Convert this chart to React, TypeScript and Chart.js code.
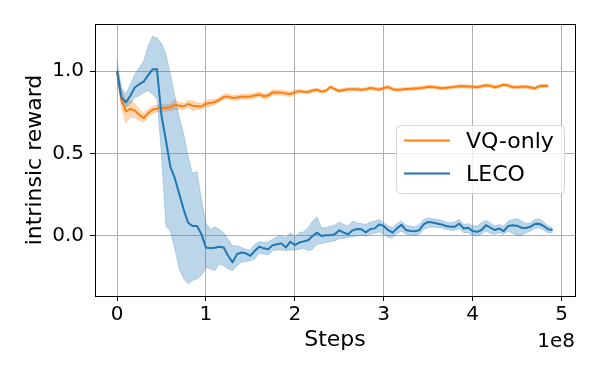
import React, { useEffect, useRef } from "react";
import { Chart, registerables } from "chart.js";

Chart.register(...registerables);

const FONT = "DejaVu Sans";

// Training steps (millions)
const stepsM = [
  0, 5, 10, 15, 20, 25, 30, 35, 40, 45,
  50, 55, 60, 65, 70, 75, 80, 85, 90, 95,
  100, 105, 110, 115, 120, 125, 130, 135, 140, 145,
  150, 155, 160, 165, 170, 175, 180, 185, 190, 195,
  200, 205, 210, 215, 220, 225, 230, 235, 240, 245,
  250, 255, 260, 265, 270, 275, 280, 285, 290, 295,
  300, 305, 310, 315, 320, 325, 330, 335, 340, 345,
  350, 355, 360, 365, 370, 375, 380, 385, 390, 395,
  400, 405, 410, 415, 420, 425, 430, 435, 440, 445,
  450, 455, 460, 465, 470, 475, 480, 485, 490,
];

const vqMean = [
  1.0, 0.83, 0.755, 0.77, 0.76, 0.735, 0.715, 0.745, 0.765, 0.772,
  0.775, 0.776, 0.78, 0.795, 0.79, 0.785, 0.8, 0.79, 0.788, 0.785,
  0.802, 0.806, 0.812, 0.825, 0.842, 0.845, 0.836, 0.84, 0.844, 0.844,
  0.845, 0.852, 0.858, 0.847, 0.852, 0.87, 0.87, 0.869, 0.864, 0.86,
  0.872, 0.878, 0.874, 0.873, 0.882, 0.887, 0.875, 0.88, 0.903, 0.89,
  0.879, 0.885, 0.889, 0.89, 0.89, 0.886, 0.89, 0.897, 0.893, 0.887,
  0.897, 0.903, 0.89, 0.886, 0.888, 0.891, 0.892, 0.894, 0.896, 0.899,
  0.904, 0.903, 0.9, 0.895, 0.898, 0.901, 0.904, 0.908, 0.908, 0.906,
  0.904, 0.902, 0.908, 0.913, 0.91, 0.902, 0.908, 0.917, 0.912, 0.902,
  0.902, 0.905, 0.905, 0.9, 0.895, 0.908, 0.911, 0.909,
];

const vqSpread = [
  0.02, 0.05, 0.07, 0.05, 0.04, 0.035, 0.025, 0.025, 0.02, 0.02,
  0.02, 0.02, 0.02, 0.03, 0.02, 0.02, 0.02, 0.03, 0.02, 0.02,
  0.02, 0.02, 0.015, 0.015, 0.015, 0.015, 0.015, 0.015, 0.015, 0.015,
  0.015, 0.015, 0.015, 0.015, 0.015, 0.015, 0.015, 0.015, 0.015, 0.015,
  0.015, 0.01, 0.01, 0.01, 0.01, 0.01, 0.01, 0.01, 0.01, 0.01,
  0.01, 0.01, 0.01, 0.01, 0.01, 0.01, 0.01, 0.01, 0.01, 0.01,
  0.01, 0.01, 0.01, 0.01, 0.01, 0.01, 0.01, 0.01, 0.01, 0.01,
  0.01, 0.01, 0.01, 0.01, 0.01, 0.01, 0.01, 0.01, 0.01, 0.01,
  0.01, 0.01, 0.01, 0.01, 0.01, 0.01, 0.01, 0.01, 0.01, 0.01,
  0.01, 0.01, 0.01, 0.01, 0.01, 0.01, 0.01, 0.01,
];

const lecoMean = [
  1.0, 0.84, 0.81, 0.85, 0.9, 0.92, 0.935, 0.975, 1.01, 1.01,
  0.73, 0.58, 0.42, 0.35, 0.255, 0.16, 0.08, 0.06, 0.06, 0.01,
  -0.07, -0.075, -0.072, -0.065, -0.07, -0.12, -0.16, -0.11, -0.1, -0.105,
  -0.12, -0.09, -0.065, -0.075, -0.08, -0.057, -0.05, -0.045, -0.07, -0.035,
  -0.055, -0.04, -0.033, -0.026, 0.0, 0.02, 0.0, 0.004, 0.005, 0.01,
  0.034, 0.02, 0.01, 0.034, 0.042, 0.04, 0.022, 0.042, 0.046, 0.07,
  0.06, 0.035, 0.02, 0.046, 0.068, 0.036, 0.03, 0.028, 0.035, 0.07,
  0.085, 0.082, 0.075, 0.07, 0.06, 0.056, 0.056, 0.075, 0.045, 0.05,
  0.03, 0.025, 0.036, 0.065, 0.05, 0.036, 0.045, 0.03, 0.06, 0.065,
  0.062, 0.05, 0.048, 0.056, 0.072, 0.074, 0.06, 0.04, 0.036,
];

const lecoUpper = [
  1.06, 0.9, 0.86, 0.92, 0.98, 1.02, 1.06, 1.15, 1.21, 1.2,
  1.17, 1.1, 0.98, 0.85, 0.72, 0.62, 0.48, 0.38, 0.39, 0.22,
  0.08, 0.04, 0.055, 0.04, 0.02, -0.02, -0.06, -0.06, -0.07, -0.08,
  -0.085, -0.05, -0.035, -0.04, -0.035, -0.02, -0.005, 0.0, -0.01, 0.02,
  -0.005, 0.02, 0.025, 0.05, 0.09, 0.115, 0.05, 0.05, 0.06, 0.065,
  0.085, 0.07, 0.06, 0.09, 0.08, 0.075, 0.07, 0.085, 0.09, 0.1,
  0.08, 0.06, 0.05, 0.075, 0.09, 0.065, 0.06, 0.055, 0.07, 0.1,
  0.11, 0.105, 0.1, 0.095, 0.085, 0.08, 0.085, 0.1, 0.07, 0.075,
  0.06, 0.06, 0.08, 0.095, 0.08, 0.06, 0.07, 0.06, 0.09, 0.1,
  0.105, 0.09, 0.075, 0.08, 0.1, 0.105, 0.085, 0.06, 0.05,
];

const lecoLower = [
  0.95, 0.8, 0.78, 0.8, 0.84, 0.85, 0.87, 0.88, 0.86, 0.83,
  0.5, 0.06, 0.03, -0.08, -0.2, -0.26, -0.29, -0.27, -0.26, -0.24,
  -0.19, -0.2, -0.21, -0.17, -0.18, -0.2, -0.21, -0.18, -0.16, -0.155,
  -0.15, -0.14, -0.105, -0.11, -0.115, -0.09, -0.085, -0.085, -0.09, -0.085,
  -0.085, -0.08, -0.075, -0.09, -0.08, -0.05, -0.045, -0.04, -0.035, -0.03,
  -0.015, -0.015, -0.01, -0.005, 0.0, 0.005, 0.0, 0.01, 0.015, 0.025,
  0.01, -0.01, -0.01, 0.015, 0.03, 0.01, 0.005, 0.005, 0.01, 0.04,
  0.05, 0.055, 0.05, 0.05, 0.04, 0.035, 0.035, 0.045, 0.02, 0.02,
  0.005, 0.0, 0.01, 0.03, 0.015, 0.01, 0.02, 0.01, 0.03, 0.015,
  0.005, 0.005, 0.02, 0.03, 0.045, 0.05, 0.035, 0.02, 0.02,
];

const seriesLabels = ["VQ-only", "LECO"];
const seriesColors = ["#ff7f0e", "#1f77b4"];
const bandColors = ["rgba(255,127,14,0.3)", "rgba(31,119,180,0.3)"];

const xTickValues = [0, 1, 2, 3, 4, 5]; // units of 1e8
const yTickValues = [0.0, 0.5, 1.0];
const xOffsetLabel = "1e8";
const xTitle = "Steps";
const yTitle = "intrinsic reward";

const pts = (vals: number[]) =>
  vals.map((v, i) => ({ x: stepsM[i] * 1e6, y: v }));

const framePlugin = {
  id: "frame",
  afterDatasetsDraw(chart: any) {
    const { ctx, chartArea } = chart;
    ctx.save();
    ctx.strokeStyle = "#000";
    ctx.lineWidth = 1;
    ctx.strokeRect(
      chartArea.left + 0.5,
      chartArea.top + 0.5,
      chartArea.right - chartArea.left,
      chartArea.bottom - chartArea.top
    );
    ctx.restore();
  },
};

const extrasPlugin = {
  id: "extras",
  afterDraw(chart: any) {
    const { ctx, chartArea } = chart;
    ctx.save();
    // offset text
    ctx.fillStyle = "#000";
    ctx.font = `20px "${FONT}"`;
    ctx.textAlign = "right";
    ctx.textBaseline = "alphabetic";
    ctx.fillText(xOffsetLabel, chartArea.right, 346.5);

    // legend box
    const bx = 396.5, by = 125.5, bw = 168, bh = 68;
    ctx.beginPath();
    (ctx as any).roundRect(bx, by, bw, bh, 4);
    ctx.fillStyle = "rgba(255,255,255,0.8)";
    ctx.fill();
    ctx.strokeStyle = "rgba(204,204,204,0.8)";
    ctx.lineWidth = 1;
    ctx.stroke();

    const rowY = [140.5, 173.5];
    seriesLabels.forEach((lab, i) => {
      ctx.beginPath();
      ctx.moveTo(404, rowY[i]);
      ctx.lineTo(450, rowY[i]);
      ctx.strokeStyle = seriesColors[i];
      ctx.lineWidth = 2;
      ctx.stroke();
      ctx.fillStyle = "#000";
      ctx.font = `22px "${FONT}"`;
      ctx.textAlign = "left";
      ctx.textBaseline = "alphabetic";
      ctx.fillText(lab, 466, rowY[i] + 7.3);
    });
    ctx.restore();
  },
};

export default function App() {
  const ref = useRef<HTMLCanvasElement | null>(null);

  useEffect(() => {
    if (!ref.current) return;
    Chart.defaults.font.family = FONT;
    const vqUpper = vqMean.map((v, i) => v + vqSpread[i]);
    const vqLower = vqMean.map((v, i) => v - vqSpread[i]);

    const common = { pointRadius: 0, tension: 0, borderJoinStyle: "round" as const };

    const chart = new Chart(ref.current, {
      type: "line",
      data: {
        datasets: [
          { label: "vq-up", data: pts(vqUpper), fill: "+1", backgroundColor: bandColors[0], borderColor: bandColors[0], borderWidth: 0.8, order: 5, ...common },
          { label: "vq-lo", data: pts(vqLower), fill: false, borderColor: bandColors[0], borderWidth: 0.8, order: 4, ...common },
          { label: "leco-up", data: pts(lecoUpper), fill: "+1", backgroundColor: bandColors[1], borderColor: bandColors[1], borderWidth: 0.8, order: 3, ...common },
          { label: "leco-lo", data: pts(lecoLower), fill: false, borderColor: bandColors[1], borderWidth: 0.8, order: 2, ...common },
          { label: seriesLabels[0], data: pts(vqMean), fill: false, borderColor: seriesColors[0], borderWidth: 2, order: 1, ...common },
          { label: seriesLabels[1], data: pts(lecoMean), fill: false, borderColor: seriesColors[1], borderWidth: 2, order: 0, ...common },
        ],
      },
      options: {
        animation: false,
        responsive: false,
        maintainAspectRatio: false,
        devicePixelRatio: 1,
        events: [],
        layout: { padding: { left: 0, top: 24, right: 25, bottom: 0 } },
        plugins: { legend: { display: false }, tooltip: { enabled: false } },
        scales: {
          x: {
            type: "linear",
            min: -0.2475e8,
            max: 5.152e8,
            afterBuildTicks: (s: any) => {
              s.ticks = xTickValues.map((v) => ({ value: v * 1e8 }));
            },
            afterFit: (s: any) => {
              s.height = 79;
            },
            ticks: {
              callback: (v: any) => String(Math.round(Number(v) / 1e8)),
              font: { family: FONT, size: 20 },
              color: "#000",
              padding: 2,
              maxRotation: 0,
              autoSkip: false,
            },
            grid: { color: "#b0b0b0", lineWidth: 1, tickColor: "#000", tickLength: 5, tickWidth: 1 },
            border: { display: false },
            title: {
              display: true,
              text: xTitle,
              color: "#000",
              font: { family: FONT, size: 22 },
              padding: { top: 0, bottom: 21.6 },
            },
          },
          y: {
            type: "linear",
            min: -0.364,
            max: 1.285,
            afterBuildTicks: (s: any) => {
              s.ticks = yTickValues.map((v) => ({ value: v }));
            },
            afterFit: (s: any) => {
              s.width = 95;
            },
            ticks: {
              callback: (v: any) => Number(v).toFixed(1),
              font: { family: FONT, size: 20 },
              color: "#000",
              padding: 6,
            },
            grid: { color: "#b0b0b0", lineWidth: 1, tickColor: "#000", tickLength: 5, tickWidth: 1 },
            border: { display: false },
            title: {
              display: true,
              text: yTitle,
              color: "#000",
              font: { family: FONT, size: 22 },
              padding: { top: 22, bottom: 0 },
            },
          },
        },
      },
      plugins: [framePlugin, extrasPlugin],
    });
    return () => chart.destroy();
  }, []);

  return (
    <div style={{ position: "absolute", left: 0, top: 0, width: 600, height: 375, background: "#fff" }}>
      <canvas ref={ref} width={600} height={375} style={{ display: "block", width: 600, height: 375 }} />
    </div>
  );
}
